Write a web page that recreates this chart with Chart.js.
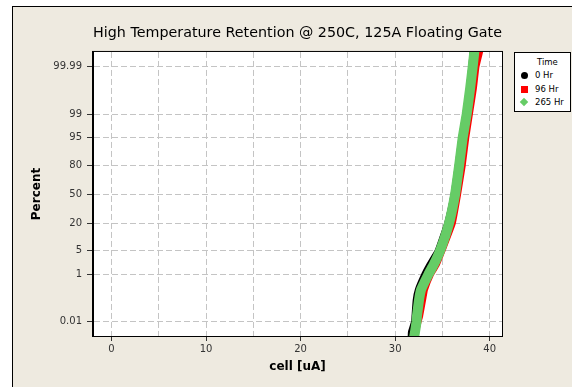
<!DOCTYPE html>
<html>
<head>
<meta charset="utf-8">
<script src="https://cdn.jsdelivr.net/npm/chart.js@4.4.0/dist/chart.umd.min.js"></script>
<style>
  body { margin: 0; background: #fff; }
  #marco { position: absolute; left: 12px; top: 6px; width: 600px; height: 400px;
           border-left: 1px solid #000; border-top: 1px solid #000; background: #EEEAE0; }
  #grafico { position: absolute; left: 0; top: 0; }
  #leyenda { position: absolute; left: 514px; top: 52px; width: 55px; height: 58px;
             background: #fff; border: 1px solid #000; font: 8.5px "DejaVu Sans", sans-serif; color: #000; }
  #leyenda div { position: absolute; white-space: nowrap; }
  .m { position: absolute; }
</style>
</head>
<body>
<div id="marco"></div>
<canvas id="grafico" width="572" height="387"></canvas>
<div id="leyenda">
  <div style="left:22px; top:4px;">Time</div>
  <span class="m" style="left:6px; top:19px; width:7px; height:7px; border-radius:50%; background:#000;"></span>
  <div style="left:20px; top:17px;">0 Hr</div>
  <span class="m" style="left:6px; top:33px; width:7px; height:7px; background:#FF0000;"></span>
  <div style="left:20px; top:31px;">96 Hr</div>
  <span class="m" style="left:6px; top:46px; width:6px; height:6px; background:#66CC66; transform:rotate(45deg);"></span>
  <div style="left:20px; top:44px;">265 Hr</div>
</div>
<script>
// Percent acumulado (de abajo hacia arriba) y la corriente leida para cada serie
const porcentajes = [0.0015, 0.003, 0.01, 0.02, 0.1, 0.27, 1, 2, 5, 20, 50, 80, 95, 99, 99.9, 99.99, 99.9985];
const hr0   = [31.64, 31.67, 32.00, 32.05, 32.17, 32.40, 33.10, 33.62, 34.50, 35.50, 36.18, 36.62, 37.00, 37.42, 37.80, 38.05, 38.20];
const hr96  = [32.20, 32.20, 32.47, 32.65, 32.95, 33.15, 33.80, 34.40, 35.00, 36.10, 36.66, 37.15, 37.52, 37.90, 38.33, 38.60, 39.00];
const hr265 = [32.00, 32.10, 32.26, 32.31, 32.52, 32.74, 33.53, 34.07, 34.75, 35.70, 36.34, 36.77, 37.14, 37.56, 37.93, 38.20, 38.38];

// Marcas de los ejes
const marcasY = [0.01, 1, 5, 20, 50, 80, 95, 99, 99.99];
const etiquetasY = ['0.01', '1', '5', '20', '50', '80', '95', '99', '99.99'];
const marcasX = [0, 5, 10, 15, 20, 25, 30, 35, 40];

// Inversa de la normal (escala de probabilidad)
function probit(p) {
  const a = [-3.969683028665376e+01, 2.209460984245205e+02, -2.759285104469687e+02, 1.383577518672690e+02, -3.066479806614716e+01, 2.506628277459239e+00];
  const b = [-5.447609879822406e+01, 1.615858368580409e+02, -1.556989798598866e+02, 6.680131188771082e+01, -1.328068155288572e+01];
  const c = [-7.784894002430293e-03, -3.223964580411365e-01, -2.400758277161838e+00, -2.549732539343734e+00, 4.374664141464968e+00, 2.938163982698783e+00];
  const d = [7.784695709041462e-03, 3.224671290700398e-01, 2.445134137142996e+00, 3.754408661907416e+00];
  const plow = 0.02425;
  let q, r;
  if (p < plow) {
    q = Math.sqrt(-2 * Math.log(p));
    return (((((c[0]*q+c[1])*q+c[2])*q+c[3])*q+c[4])*q+c[5]) / ((((d[0]*q+d[1])*q+d[2])*q+d[3])*q+1);
  }
  if (p <= 1 - plow) {
    q = p - 0.5; r = q * q;
    return (((((a[0]*r+a[1])*r+a[2])*r+a[3])*r+a[4])*r+a[5])*q / (((((b[0]*r+b[1])*r+b[2])*r+b[3])*r+b[4])*r+1);
  }
  q = Math.sqrt(-2 * Math.log(1 - p));
  return -(((((c[0]*q+c[1])*q+c[2])*q+c[3])*q+c[4])*q+c[5]) / ((((d[0]*q+d[1])*q+d[2])*q+d[3])*q+1);
}

function puntos(xs) {
  return xs.map((x, i) => ({ x: x, y: probit(porcentajes[i] / 100) }));
}

// Fondo blanco y marco del area de trazado
const marcoArea = {
  id: 'marcoArea',
  beforeDraw(chart) {
    const a = chart.chartArea, ctx = chart.ctx;
    ctx.save();
    ctx.fillStyle = '#fff';
    ctx.fillRect(a.left, a.top, a.right - a.left, a.bottom - a.top);
    ctx.restore();
  },
  afterDraw(chart) {
    const a = chart.chartArea, ctx = chart.ctx;
    ctx.save();
    ctx.strokeStyle = '#000';
    ctx.lineWidth = 1;
    ctx.strokeRect(a.left - 0.5, a.top - 0.5, a.right - a.left + 1, a.bottom - a.top + 1);
    ctx.restore();
  }
};

const serie = (label, xs, color, ancho, orden) => ({
  label: label,
  data: puntos(xs),
  showLine: true,
  borderColor: color,
  backgroundColor: color,
  borderWidth: ancho,
  pointRadius: 0,
  tension: 0.1,
  borderJoinStyle: 'round',
  clip: 0,
  order: orden
});

new Chart(document.getElementById('grafico'), {
  type: 'scatter',
  data: {
    datasets: [
      serie('0 Hr', hr0, '#000000', 6, 3),
      serie('96 Hr', hr96, '#FF0000', 6, 2),
      serie('265 Hr', hr265, '#66CC66', 10, 1)
    ]
  },
  plugins: [marcoArea],
  options: {
    responsive: false,
    animation: false,
    layout: { padding: { left: 0, right: 70, top: 0, bottom: 0 } },
    plugins: {
      legend: { display: false },
      tooltip: { enabled: false },
      title: {
        display: true,
        fullSize: false,
        text: 'High Temperature Retention @ 250C, 125A Floating Gate',
        color: '#000',
        font: { family: 'DejaVu Sans', size: 14.8, weight: 'normal' },
        padding: { top: 24, bottom: 10.2 }
      }
    },
    scales: {
      x: {
        type: 'linear',
        min: -1.95,
        max: 41.3,
        afterFit: (s) => { s.height = 51; },
        afterBuildTicks: (s) => { s.ticks = marcasX.map(v => ({ value: v })); },
        border: { display: true, color: '#000', dash: [6, 3] },
        grid: {
          color: '#C4C4C4',
          tickLength: 5,
          tickColor: (ctx) => (ctx.tick && ctx.tick.value % 10 === 0) ? '#333' : 'rgba(0,0,0,0)'
        },
        ticks: {
          autoSkip: false,
          maxRotation: 0,
          padding: 2,
          color: '#333',
          font: { family: 'DejaVu Sans', size: 10 },
          callback: (v) => (v % 10 === 0 ? String(v) : '')
        },
        title: {
          display: true,
          text: 'cell [uA]',
          color: '#000',
          font: { family: 'DejaVu Sans', size: 12, weight: 'bold' },
          padding: { bottom: 13 }
        }
      },
      y: {
        type: 'linear',
        min: -4.13,
        max: 4.15,
        afterFit: (s) => { s.width = 93; },
        afterBuildTicks: (s) => { s.ticks = marcasY.map(p => ({ value: probit(p / 100) })); },
        border: { display: true, color: '#000', dash: [6, 3] },
        grid: {
          color: '#C4C4C4',
          tickLength: 6,
          tickColor: '#333'
        },
        ticks: {
          autoSkip: false,
          padding: 5,
          color: '#333',
          font: { family: 'DejaVu Sans', size: 10 },
          callback: (v, i) => etiquetasY[i]
        },
        title: {
          display: true,
          text: 'Percent',
          color: '#000',
          font: { family: 'DejaVu Sans', size: 12, weight: 'bold' },
          padding: { top: 30 }
        }
      }
    }
  }
});
</script>
</body>
</html>
